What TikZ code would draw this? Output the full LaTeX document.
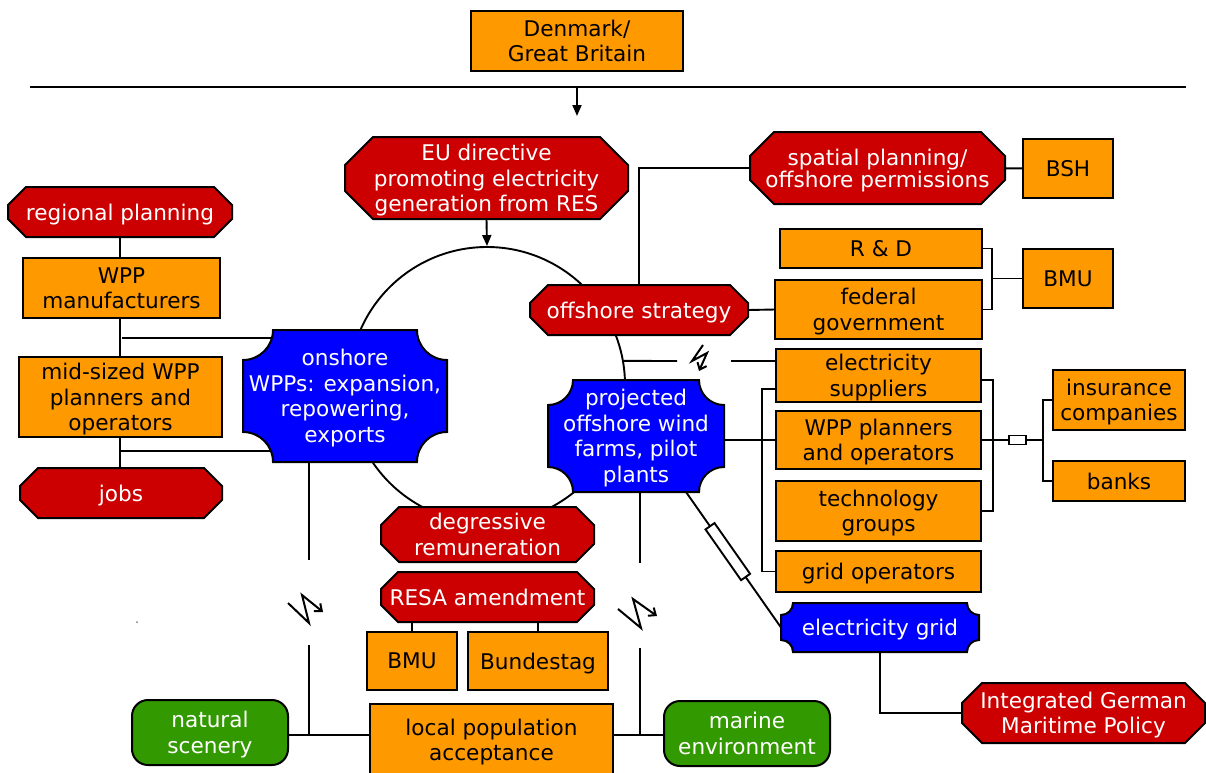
\documentclass[tikz,border=0pt]{standalone}
\usepackage{fontspec}
\setmainfont{DejaVu Sans}
\usetikzlibrary{calc,arrows.meta}
\pgfdeclarelayer{back}
\pgfdeclarelayer{fills}
\pgfsetlayers{back,fills,main}
\definecolor{boxorange}{RGB}{255,153,0}
\definecolor{actred}{RGB}{204,0,0}
\definecolor{actblue}{RGB}{0,0,255}
\definecolor{envgreen}{RGB}{51,153,0}

% octagon behind a named node: #1 node, #2 chamfer, #3 style
\newcommand\octshape[3]{%
  \begin{pgfonlayer}{fills}
    \path[#3] ($(#1.north west)+(#2,0)$) -- ($(#1.north east)+(-#2,0)$)
      -- ($(#1.north east)+(0,#2)$) -- ($(#1.south east)+(0,-#2)$)
      -- ($(#1.south east)+(-#2,0)$) -- ($(#1.south west)+(#2,0)$)
      -- ($(#1.south west)+(0,-#2)$) -- ($(#1.north west)+(0,#2)$) -- cycle;
  \end{pgfonlayer}}

% box with concave quarter-circle corners behind a named node: #1 node, #2 radius, #3 style
\newcommand\notchshape[3]{%
  \begin{pgfonlayer}{fills}
    \path[#3]
      ($(#1.north west)+(#2,0)$) -- ($(#1.north east)+(-#2,0)$)
      .. controls ($(#1.north east)+(-#2,0.5523*#2)$) and ($(#1.north east)+(-0.5523*#2,#2)$) .. ($(#1.north east)+(0,#2)$)
      -- ($(#1.south east)+(0,-#2)$)
      .. controls ($(#1.south east)+(-0.5523*#2,-#2)$) and ($(#1.south east)+(-#2,-0.5523*#2)$) .. ($(#1.south east)+(-#2,0)$)
      -- ($(#1.south west)+(#2,0)$)
      .. controls ($(#1.south west)+(#2,-0.5523*#2)$) and ($(#1.south west)+(0.5523*#2,-#2)$) .. ($(#1.south west)+(0,-#2)$)
      -- ($(#1.north west)+(0,#2)$)
      .. controls ($(#1.north west)+(0.5523*#2,#2)$) and ($(#1.north west)+(#2,0.5523*#2)$) .. ($(#1.north west)+(#2,0)$)
      -- cycle;
  \end{pgfonlayer}}

\begin{document}
\begin{tikzpicture}[x=1pt,y=-1pt,
  lbl/.style={inner sep=0pt, outer sep=0pt, align=center, text depth=0pt,
    font=\fontsize{21.6}{25.5}\selectfont},
  sz/.style 2 args={minimum width=#1pt, minimum height=#2pt},
  actor/.style={lbl, draw=black, line width=2pt, fill=boxorange, text=black},
  goal/.style={lbl, text=white},
  redfill/.style={fill=actred, draw=black, line width=2pt},
  bluefill/.style={fill=actblue, draw=black, line width=2pt},
  env/.style={lbl, draw=black, line width=2pt, fill=envgreen, text=white, rounded corners=16pt},
  link/.style={line width=1.9pt},
  tip/.style={-{Triangle[length=11pt,width=9pt]}},
  zap/.style={line width=2pt, -{Straight Barb[length=6pt,width=10pt]}},
  joint/.style={draw=black, line width=1.9pt, fill=white, inner sep=0pt, outer sep=0pt}
]
\useasboundingbox (0,0) rectangle (1206,772);

% ---------- nodes ----------
\node[actor, sz={212}{60}] (dk) at (577,41) {Denmark/\\Great Britain};

\node[goal, sz={283}{82}] (eu) at (486.5,178) {EU directive\\promoting electricity\\generation from RES};
\octshape{eu}{28}{redfill}

\node[goal, sz={224}{50}] (reg) at (120,212) {regional planning};
\octshape{reg}{18}{redfill}
\node[actor, sz={197}{60}] (mfr) at (121.5,288) {WPP\\manufacturers};
\node[actor, sz={203}{80}] (mid) at (120.5,397) {mid-sized WPP\\planners and\\operators};
\node[goal, sz={202}{50}] (jobs) at (121,493) {jobs};
\octshape{jobs}{18}{redfill}

\node[goal, sz={204}{132}] (on) at (345,396) {onshore\\WPPs: expansion,\\repowering,\\exports};
\notchshape{on}{30}{bluefill}

\node[goal, sz={218}{50}] (strat) at (639,310) {offshore strategy};
\octshape{strat}{18}{redfill}
\node[goal, sz={255}{72}, font=\fontsize{21.6}{22}\selectfont] (spat) at (877.5,168) {spatial planning/\\offshore permissions};
\octshape{spat}{24}{redfill}
\node[actor, sz={90}{59}] (bsh) at (1068,168.5) {BSH};
\node[actor, sz={202}{39}] (rd) at (881,248.5) {R \& D};
\node[actor, sz={207}{59}] (fed) at (878.5,309.5) {federal\\government};
\node[actor, sz={90}{59}] (bmuA) at (1068,278.5) {BMU};

\node[goal, sz={176}{112}] (proj) at (636,436) {projected\\offshore wind\\farms, pilot\\plants};
\notchshape{proj}{25}{bluefill}

\node[actor, sz={205}{53}] (sup) at (878.5,375.5) {electricity\\suppliers};
\node[actor, sz={205}{58}] (plan) at (878.5,440) {WPP planners\\and operators};
\node[actor, sz={205}{60}] (tech) at (878.5,511) {technology\\groups};
\node[actor, sz={205}{41}] (gop) at (878.5,571.5) {grid operators};
\node[actor, sz={132}{60}] (ins) at (1119,400) {insurance\\companies};
\node[actor, sz={132}{40}] (bank) at (1119,481) {banks};
\node[joint, sz={17}{9}] (pool) at (1017.5,440) {};

\node[goal, sz={198}{49}] (grid) at (880,627.5) {electricity grid};
\notchshape{grid}{12}{bluefill}
\node[goal, sz={243}{60}] (imp) at (1083.5,713) {Integrated German\\Maritime Policy};
\octshape{imp}{20}{redfill}

\node[goal, sz={213}{55}] (deg) at (487.5,534.5) {degressive\\remuneration};
\octshape{deg}{18}{redfill}
\node[goal, sz={213}{50}] (resa) at (487.5,597) {RESA amendment};
\octshape{resa}{17}{redfill}
\node[actor, sz={90}{58}] (bmuB) at (412,661) {BMU};
\node[actor, sz={140}{58}] (bt) at (538,661) {Bundestag};

\node[env, sz={156}{65}] (nat) at (210,732.5) {natural\\scenery};
\node[actor, sz={243}{72}] (pop) at (491.5,740) {local population\\acceptance};
\node[env, sz={166}{65}] (mar) at (747,733.5) {marine\\environment};

% conflict marks
\draw[zap] (703,345) -- (692,361) -- (707,353) -- (699,371);
\draw[zap] (288,603) -- (309,623) -- (302,595) -- (323,612);
\draw[zap] (618,609) -- (641,628) -- (633,599) -- (657,616);
\fill[gray] (137,622) circle (1);

% ---------- connectors (below the shapes) ----------
\begin{pgfonlayer}{back}
  \fill[white] (0,0) rectangle (1206,772);
  \node[circle, draw, line width=1.9pt, minimum size=276pt, inner sep=0pt] (ring) at (487,385) {};

  \coordinate (L1) at (30,87);
  \coordinate (L2) at (1186,87);
  \coordinate (drop) at (577,87);
  \coordinate (dropend) at (577,116);
  \draw[link] (L1) -- (L2);
  \draw[link,tip] (drop) -- (dropend);
  \draw[link,tip] (eu.south) -- (ring.north);

  % onshore cluster
  \draw[link] (reg.south) -- (reg.south |- jobs.north);
  \draw[link] ($(mfr.south)+(0,20)$) -- ($(on.north west)+(29,8)$);
  \draw[link] ($(mid.south)+(0,14)$) -- ($(on.south west)+(28,-11)$);

  % offshore strategy and federal actors
  \draw[link] (strat.north) |- (spat.west);
  \draw[link] (spat) -- (bsh);
  \draw[link] (strat.east) -- (fed.west);
  \draw[link] (rd.east) -- ++(10,0) |- (fed.east);
  \coordinate (rdb) at ($(rd.east)+(10,0)$);
  \draw[link] (rdb |- bmuA.west) -- (bmuA.west);

  % conflict between the programme and the suppliers
  \coordinate (zA1) at (677,361);
  \coordinate (zA2) at (731,361);
  \draw[link] (ring.10) -- (zA1);
  \draw[link] (zA2) -- (zA2 -| sup.west);

  % offshore actors
  \draw[link] ($(sup.south west)+(0,-13)$) -- ++(-14,0) |- (gop.west);
  \draw[link] (proj.east |- plan.west) -- (plan.west);
  \draw[link] ($(sup.south east)+(0,-22)$) -- ++(12,0) |- (tech.east);
  \draw[link] (plan.east) -- (pool.west);
  \coordinate (fk) at ($(ins.west)+(-10,0)$);
  \draw[link] (pool.east) -- (fk |- pool.east);
  \draw[link] (ins.west) -- (fk) |- (bank.west);

  % grid connection
  \draw[link] ($(proj.south east)+(-38,0)$) -- node[joint, sz={62}{11}, sloped, pos=0.44] (res) {} (grid.west);
  \draw[link] (grid.south) |- (imp.west);

  % acceptance conflicts
  \coordinate (vL1) at (309,560);
  \coordinate (vL2) at (309,645);
  \coordinate (vR1) at (640,563);
  \coordinate (vR2) at (640,648);
  \coordinate (hl) at (0,735);
  \draw[link] (on.south -| vL1) -- (vL1);
  \draw[link] (vL2) -- (vL2 |- hl);
  \draw[link] (proj.south -| vR1) -- (vR1);
  \draw[link] (vR2) -- (vR2 |- hl);
  \draw[link] (nat.east |- hl) -- (pop.west |- hl);
  \draw[link] (pop.east |- hl) -- (mar.west |- hl);

  % legislation
  \draw[link] (resa.south -| bmuB.north) -- (bmuB.north);
  \draw[link] (resa.south -| bt.north) -- (bt.north);
\end{pgfonlayer}
\end{tikzpicture}
\end{document}
